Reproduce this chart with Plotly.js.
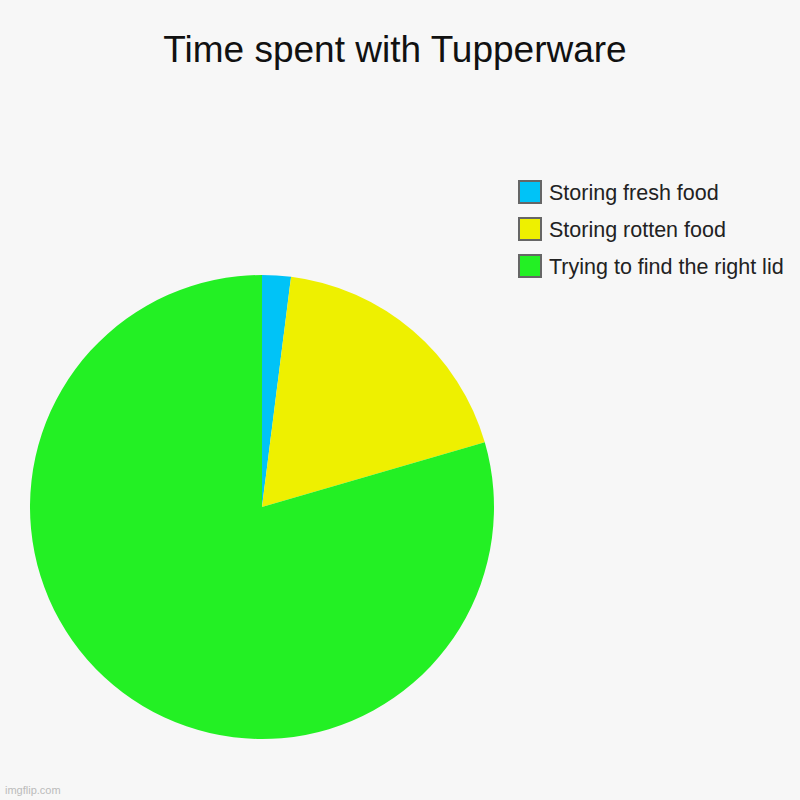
<!DOCTYPE html>
<html><head><meta charset="utf-8">
<script src="https://cdn.plot.ly/plotly-3.0.1.min.js"></script>
<style>body{margin:0;background:#f7f7f7}#c{width:800px;height:800px}</style>
</head><body><div id="c"></div>
<script>
const labels = ["Storing fresh food", "Storing rotten food", "Trying to find the right lid"];
const values = [2, 18.5, 79.5];
const colors = ["#00c3f7", "#eef000", "#23f024"];

const shapes = [], annotations = [];
labels.forEach((l, i) => {
  const yc = 192 + i * 37;
  shapes.push({type: "rect", xref: "paper", yref: "paper",
    x0: 519/800, x1: 541/800, y0: 1 - (yc + 11)/800, y1: 1 - (yc - 11)/800,
    fillcolor: colors[i], line: {color: "#666", width: 2}});
  annotations.push({xref: "paper", yref: "paper", x: 547/800, y: 1 - (yc + 1)/800,
    xanchor: "left", yanchor: "middle", text: l, showarrow: false,
    font: {family: "Liberation Sans, Arial, sans-serif", size: 21.5, color: "#222"}});
});
annotations.push({xref: "paper", yref: "paper", x: 3/800, y: 1 - 790/800, xanchor: "left", yanchor: "middle",
  text: "imgflip.com", showarrow: false, font: {family: "Liberation Sans, Arial, sans-serif", size: 11, color: "#bbb"}});

Plotly.newPlot("c", [{
  type: "pie", labels: labels, values: values, sort: false, direction: "clockwise", rotation: 0,
  marker: {colors: colors, line: {width: 0}}, textinfo: "none", hoverinfo: "label+percent",
  domain: {x: [30/800, 494/800], y: [61/800, 525/800]}
}], {
  width: 800, height: 800, margin: {l: 0, r: 0, t: 0, b: 0},
  paper_bgcolor: "#f7f7f7", plot_bgcolor: "#f7f7f7", showlegend: false,
  title: {text: "Time spent with Tupperware", x: 395/800, xanchor: "center", y: 1 - 49/800, yanchor: "middle",
    font: {family: "Liberation Sans, Arial, sans-serif", size: 37, color: "#111"}},
  shapes: shapes, annotations: annotations
}, {displayModeBar: false});
</script></body></html>
